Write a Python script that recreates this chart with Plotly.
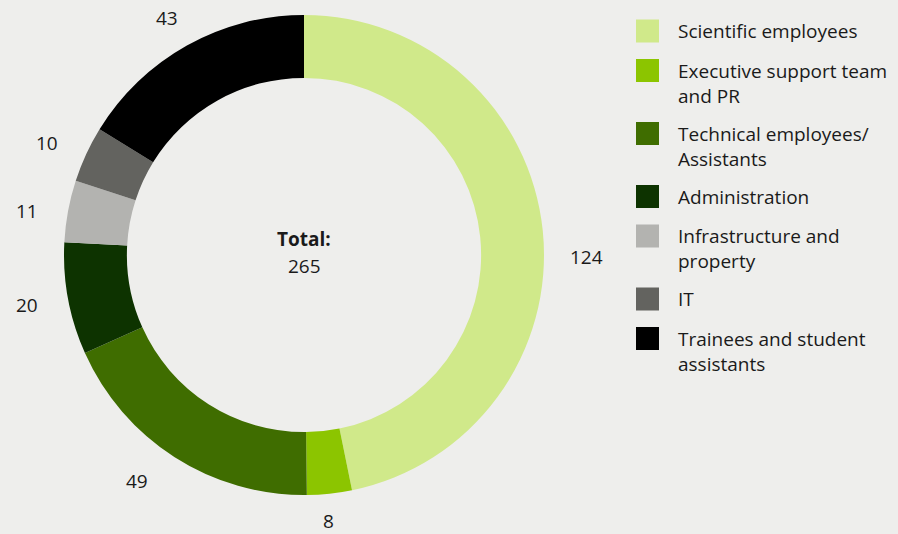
import math
import plotly.graph_objects as go

categories = ["Scientific employees", "Executive support team<br>and PR",
              "Technical employees/<br>Assistants", "Administration",
              "Infrastructure and<br>property", "IT",
              "Trainees and student<br>assistants"]
values = [124, 8, 49, 20, 11, 10, 43]
colors = ["#d0e98a", "#8cc500", "#3f6d00", "#0d3300", "#b3b3b0", "#63635f", "#000000"]
total_label = "Total:"

W, H = 898, 534
BG = "#eeeeec"
TXT = "#1a1a1a"
FONT = "Open Sans, Arial, sans-serif"
FS = 19

cx, cy, R = 304, 255, 240  # pie centre / radius in px

fig = go.Figure()
fig.add_trace(go.Pie(
    labels=[c.replace("<br>", " ") for c in categories], values=values,
    marker=dict(colors=colors, line=dict(width=0)),
    hole=0.738, sort=False, direction="clockwise", rotation=0,
    textinfo="none", hoverinfo="label+value", showlegend=False,
    domain=dict(x=[(cx - R) / W, (cx + R) / W],
                y=[1 - (cy + R) / H, 1 - (cy - R) / H]),
))

ann = []
# value labels around ring at slice mid-angles
nudges = [(4, 30), (-5, -12), (-16, -10), (-2, -1), (-2, 7), (-3, 5), (0, 7)]
tot = sum(values)
cum = 0
for v, (ndx, ndy) in zip(values, nudges):
    mid = (cum + v / 2) / tot * 2 * math.pi
    cum += v
    rl = 280
    px = cx + rl * math.sin(mid) + ndx
    py = cy - rl * math.cos(mid) + ndy
    ann.append(dict(x=px / W, y=1 - py / H, xref="paper", yref="paper",
                    text=str(v), showarrow=False, xanchor="center", yanchor="middle",
                    font=dict(family=FONT, size=FS, color=TXT)))

# centre total
ann.append(dict(x=cx / W, y=1 - 239 / H, xref="paper", yref="paper",
                text="<b>" + total_label + "</b>", showarrow=False,
                xanchor="center", yanchor="middle",
                font=dict(family=FONT, size=FS, color=TXT)))
ann.append(dict(x=cx / W, y=1 - 266 / H, xref="paper", yref="paper",
                text=str(tot), showarrow=False,
                xanchor="center", yanchor="middle",
                font=dict(family=FONT, size=FS, color=TXT)))

# custom legend
shapes = []
lx0, sq = 636, 23
tx = 676
y_top = 19.5
line_h = 23.5
gap = 16
for c, col in zip(categories, colors):
    nlines = c.count("<br>") + 1
    shapes.append(dict(type="rect", xref="paper", yref="paper",
                       x0=lx0 / W, x1=(lx0 + sq) / W,
                       y0=1 - (y_top + sq) / H, y1=1 - y_top / H,
                       fillcolor=col, line=dict(width=0)))
    ann.append(dict(x=tx / W, y=1 - (y_top - 3.5) / H, xref="paper", yref="paper",
                    text=c, showarrow=False, xanchor="left", yanchor="top",
                    align="left", font=dict(family=FONT, size=FS, color=TXT)))
    y_top += nlines * line_h + gap

fig.update_layout(
    width=W, height=H, margin=dict(l=0, r=0, t=0, b=0),
    paper_bgcolor=BG, plot_bgcolor=BG,
    annotations=ann, shapes=shapes, showlegend=False,
)
fig.write_html("out.html", config={"displayModeBar": False},
               post_script="document.body.style.margin='0';document.body.style.overflow='hidden';")
